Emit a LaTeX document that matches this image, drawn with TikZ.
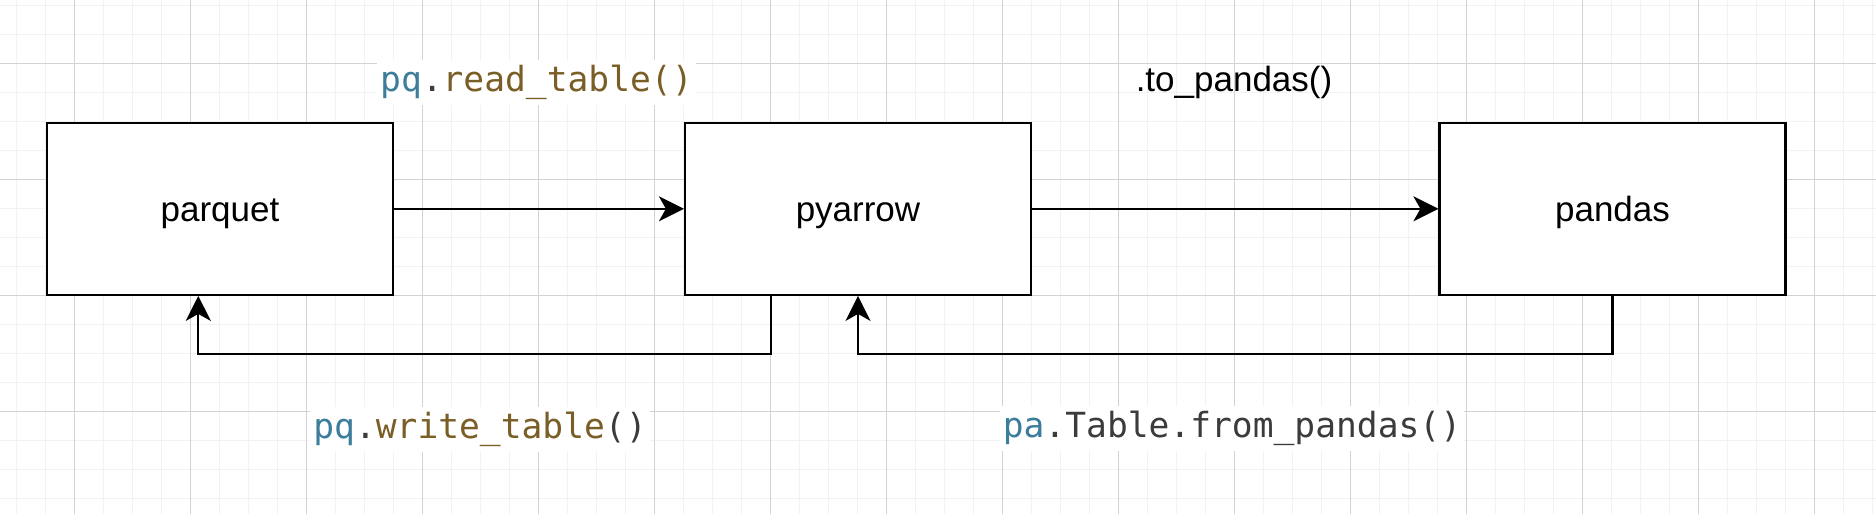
\documentclass[tikz,border=0pt]{standalone}
\usepackage{fontspec}
\setmainfont{Liberation Sans}
\newfontfamily\codefont{DejaVu Sans Mono}
\usetikzlibrary{arrows.meta}
\definecolor{gridminor}{HTML}{F2F2F2}
\definecolor{gridmajor}{HTML}{D2D2D2}
\definecolor{pqblue}{HTML}{3B7D9A}
\definecolor{fnbrown}{HTML}{795E26}
\definecolor{codegray}{HTML}{3B3B3B}
\begin{document}
\begin{tikzpicture}[x=1pt,y=-1pt,
  minorline/.style={draw=gridminor, line width=1.3pt},
  majorline/.style={draw=gridmajor, line width=1pt},
  box/.style={draw=black, line width=2.2pt, fill=white, minimum width=346pt, minimum height=172pt, inner sep=0pt, font=\fontsize{35}{42}\selectfont, text height=24.4pt, text depth=0pt},
  arr/.style={draw=black, line width=2.2pt, -{Stealth[length=25pt, width=25pt, inset=7pt]}},
  codelabel/.style={fill=white, inner xsep=3pt, inner ysep=0pt, text height=31pt, text depth=14pt, font=\codefont\fontsize{34.6}{40}\selectfont, anchor=base},
  plainlabel/.style={inner sep=0pt, font=\fontsize{35}{42}\selectfont, anchor=base}]
% background and bounding box
\fill[white] (0,0) rectangle (1876,514);
\useasboundingbox (0,0) rectangle (1876,514);
% grid
\foreach \i in {0,...,64} \draw[minorline] ({16.3+29*\i},0) -- ({16.3+29*\i},514);
\foreach \i in {0,...,17} \draw[minorline] (0,{5.3+29*\i}) -- (1876,{5.3+29*\i});
\foreach \i in {0,...,15} \draw[majorline] ({74.3+116*\i},0) -- ({74.3+116*\i},514);
\foreach \i in {0,...,3} \draw[majorline] (0,{63.3+116*\i}) -- (1876,{63.3+116*\i});
% boxes
\node[box] (parquet) at (220,208.8) {parquet};
\node[box] (pyarrow) at (858,208.8) {pyarrow};
\node[box] (pandas) at (1612.5,208.8) {pandas};
% connectors
\draw[arr] (parquet.east) -- (pyarrow.west);
\draw[arr] (pyarrow.east) -- (pandas.west);
\draw[arr] ([xshift=-87pt]pyarrow.south) -- ++(0,58.3) -| ([xshift=-21.7pt]parquet.south);
\draw[arr] (pandas.south) -- ++(0,58.3) -| (pyarrow.south);
% labels
\node[codelabel] (lread) at (536.4,91) {\textcolor{pqblue}{pq}\textcolor{codegray}{.}\textcolor{fnbrown}{read\_table()}};
\node[plainlabel] (lto) at (1234,91.5) {.to\_pandas()};
\node[codelabel] (lwrite) at (480,438) {\textcolor{pqblue}{pq}\textcolor{codegray}{.}\textcolor{fnbrown}{write\_table}\textcolor{codegray}{()}};
\node[codelabel] (lfrom) at (1232,437) {\textcolor{pqblue}{pa}\textcolor{codegray}{.Table.from\_pandas()}};
\end{tikzpicture}
\end{document}
